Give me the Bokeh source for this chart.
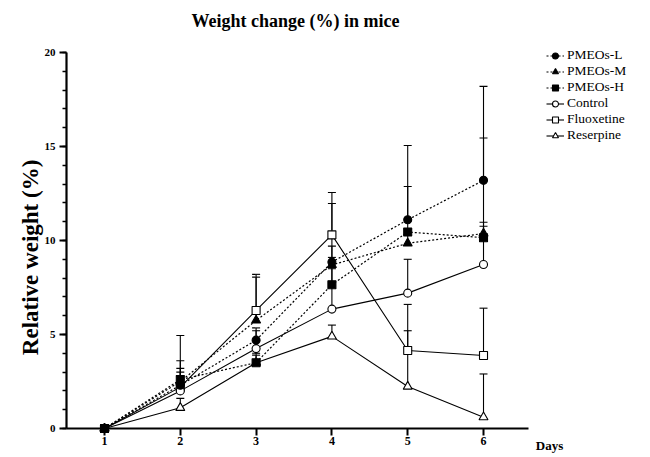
import math
from bokeh.plotting import figure
from bokeh.models import FixedTicker, Legend, LegendItem, Label, Range1d
from bokeh.embed import file_html
from bokeh.resources import INLINE

# ---- data ----
days = [1, 2, 3, 4, 5, 6]
series_names = ["PMEOs-L", "PMEOs-M", "PMEOs-H", "Control", "Fluoxetine", "Reserpine"]

pmeos_l = [0, 2.3, 4.7, 8.85, 11.1, 13.2]
pmeos_l_up = [0, 3.0, 5.35, 9.7, 15.05, 18.2]
pmeos_m = [0, 2.5, 5.75, 8.7, 9.85, 10.37]
pmeos_m_up = [0, 3.2, 8.05, 9.1, 10.6, 10.97]
pmeos_h = [0, 2.6, 3.5, 7.65, 10.45, 10.15]
pmeos_h_up = [0, 2.8, 4.0, 8.5, 12.87, 10.76]
control = [0, 2.0, 4.25, 6.35, 7.2, 8.72]
control_up = [0, 3.6, 5.2, 11.97, 9.0, 15.45]
fluoxetine = [0, 2.2, 6.28, 10.3, 4.15, 3.88]
fluoxetine_up = [0, 4.95, 8.2, 12.55, 6.6, 6.4]
reserpine = [0, 1.1, 3.5, 4.9, 2.23, 0.6]
reserpine_up = [0, 1.6, 3.9, 5.5, 5.2, 2.9]

y_ticks = [0, 5, 10, 15, 20]
y_minor = list(range(0, 21))

values = [pmeos_l, pmeos_m, pmeos_h, control, fluoxetine, reserpine]
uppers = [pmeos_l_up, pmeos_m_up, pmeos_h_up, control_up, fluoxetine_up, reserpine_up]
markers = ["circle", "triangle", "square", "circle", "square", "triangle"]
filled = [True, True, True, False, False, False]
dashes = ["2 2", "2 2", "2 2", "solid", "solid", "solid"]

SERIF = "Liberation Serif"

# frame covers the whole canvas; axes are drawn at fixed data locations
p = figure(width=650, height=457, output_backend="svg", toolbar_location=None,
           x_range=Range1d(-0.372, 8.203), y_range=Range1d(-1.543, 22.766),
           min_border=0, background_fill_color="white", border_fill_color="white")
p.outline_line_color = None
p.grid.visible = False

xa = p.xaxis[0]
ya = p.yaxis[0]
xa.fixed_location = 0
xa.bounds = (0.5, 6.6)
ya.fixed_location = 0.5
ya.bounds = (0, 20)
xa.ticker = FixedTicker(ticks=days)
ya.ticker = FixedTicker(ticks=y_ticks, minor_ticks=y_minor)
for ax in (xa, ya):
    ax.axis_line_width = 2.2
    ax.axis_line_color = "black"
    ax.major_tick_line_width = 2
    ax.major_tick_line_color = "black"
    ax.major_tick_in = 0
    ax.major_tick_out = 7
    ax.minor_tick_line_width = 1.6
    ax.minor_tick_line_color = "black"
    ax.minor_tick_in = 0
    ax.minor_tick_out = 4
    ax.major_label_text_font = SERIF
    ax.major_label_text_font_style = "bold"
    ax.major_label_text_color = "black"
xa.major_label_text_font_size = "12px"
ya.major_label_text_font_size = "11px"
xa.major_label_standoff = 2
ya.major_label_standoff = 4

# lines
line_r = []
for v, d in zip(values, dashes):
    r = p.line(days, v, line_color="black", line_width=1.2 if d != "solid" else 1.1,
               line_dash=d)
    line_r.append(r)

# error bars (upper only)
for v, u in zip(values, uppers):
    xs = [x for x, a, b in zip(days, v, u) if b > a]
    y0 = [a for a, b in zip(v, u) if b > a]
    y1 = [b for a, b in zip(v, u) if b > a]
    p.segment(x0=xs, y0=y0, x1=xs, y1=y1, line_color="black", line_width=1.1)
    p.scatter(x=xs, y=y1, marker="dash", size=8, line_color="black", line_width=1.1)

# markers
mark_r = [None] * 6
for i in [5, 4, 3, 0, 1, 2]:
    sz = 9 if markers[i] == "triangle" else 8
    r = p.scatter(days, values[i], marker=markers[i], size=sz,
                  fill_color="black" if filled[i] else "white",
                  line_color="black", line_width=1.1)
    mark_r[i] = r

items = [LegendItem(label=n, renderers=[line_r[i], mark_r[i]]) for i, n in enumerate(series_names)]
legend = Legend(items=items, location=(546, 314), margin=0, padding=0,
                glyph_width=18, glyph_height=15, label_height=15, spacing=0,
                label_standoff=3, label_text_font=SERIF, label_text_font_size="13.5px",
                label_text_color="black", background_fill_alpha=0, border_line_alpha=0)
p.add_layout(legend, "center")

# texts
p.add_layout(Label(x=3.52, y=21.7, text="Weight change (%) in mice", text_font=SERIF,
                   text_font_style="bold", text_font_size="18px", text_align="center",
                   text_baseline="middle", text_color="black"))
p.add_layout(Label(x=6.69, y=-0.9, text="Days", text_font=SERIF, text_font_style="bold",
                   text_font_size="13px", text_align="left", text_baseline="middle",
                   text_color="black"))
p.add_layout(Label(x=0.03, y=9.1, text="Relative weight (%)", text_font=SERIF,
                   text_font_style="bold", text_font_size="23px", text_align="center",
                   text_baseline="middle", angle=math.pi / 2, text_color="black"))

open("out.html", "w").write(file_html(p, INLINE))
